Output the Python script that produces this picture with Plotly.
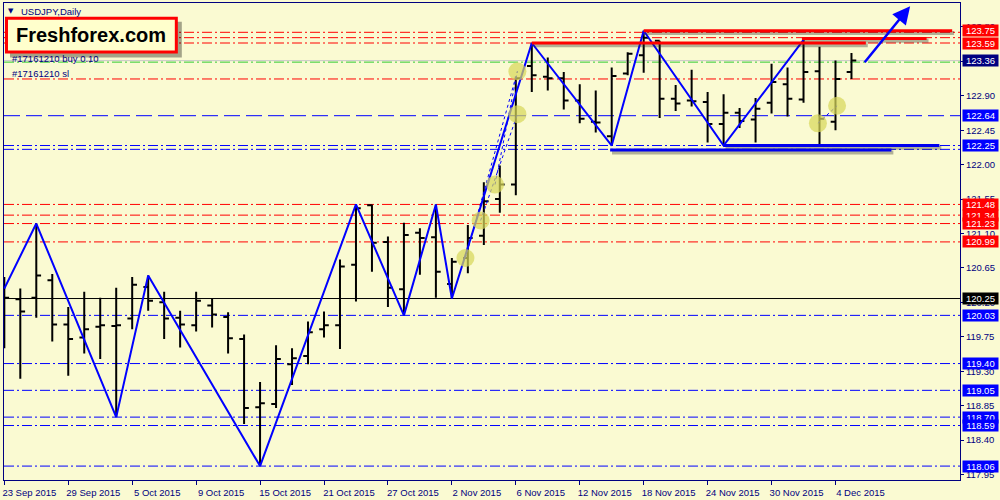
import plotly.graph_objects as go

# ---------------- data ----------------
dates = ["23 Sep 2015", "24 Sep 2015", "25 Sep 2015", "28 Sep 2015", "29 Sep 2015", "30 Sep 2015",
         "1 Oct 2015", "2 Oct 2015", "5 Oct 2015", "6 Oct 2015", "7 Oct 2015", "8 Oct 2015", "9 Oct 2015",
         "12 Oct 2015", "13 Oct 2015", "14 Oct 2015", "15 Oct 2015", "16 Oct 2015", "19 Oct 2015",
         "20 Oct 2015", "21 Oct 2015", "22 Oct 2015", "23 Oct 2015", "26 Oct 2015", "27 Oct 2015",
         "28 Oct 2015", "29 Oct 2015", "30 Oct 2015", "2 Nov 2015", "3 Nov 2015", "4 Nov 2015",
         "5 Nov 2015", "6 Nov 2015", "9 Nov 2015", "10 Nov 2015", "11 Nov 2015", "12 Nov 2015",
         "13 Nov 2015", "16 Nov 2015", "17 Nov 2015", "18 Nov 2015", "19 Nov 2015", "20 Nov 2015",
         "23 Nov 2015", "24 Nov 2015", "25 Nov 2015", "26 Nov 2015", "27 Nov 2015", "30 Nov 2015",
         "1 Dec 2015", "2 Dec 2015", "3 Dec 2015", "4 Dec 2015", "7 Dec 2015"]

opens = [120.28, 120.24, 120.26, 120.49, 119.91, 119.74, 119.88, 119.89, 119.99, 120.40,
         120.20, 120.00, 119.90, 120.16, 120.01, 119.72, 118.83, 118.87, 119.39, 119.50,
         119.85, 119.90, 120.69, 121.47, 120.99, 120.37, 121.11, 121.05, 120.44, 120.78,
         121.07, 121.55, 121.74, 123.29, 123.15, 123.13, 122.84, 122.56, 122.37, 123.19,
         123.43, 123.62, 122.86, 122.84, 122.82, 122.53, 122.68, 122.59, 122.81, 123.05,
         122.85, 123.22, 122.56, 123.21]
highs = [120.53, 120.38, 121.23, 120.57, 120.14, 120.34, 120.26, 120.39, 120.53, 120.55,
         120.34, 120.09, 120.34, 120.25, 120.07, 119.78, 119.16, 119.64, 119.60, 119.95,
         120.08, 120.76, 121.48, 121.48, 121.06, 121.24, 121.17, 121.48, 120.78, 121.21,
         121.77, 121.99, 123.15, 123.59, 123.40, 123.21, 123.05, 122.97, 123.27, 123.47,
         123.75, 123.62, 123.04, 123.24, 122.95, 122.92, 122.74, 122.87, 123.32, 123.27,
         123.63, 123.54, 123.36, 123.46]
lows = [119.60, 119.20, 120.00, 119.69, 119.24, 119.53, 119.46, 118.70, 119.85, 120.09,
        119.72, 119.61, 119.82, 119.87, 119.53, 118.61, 118.06, 118.82, 119.12, 119.39,
        119.74, 119.59, 120.21, 120.60, 120.14, 120.03, 120.56, 120.26, 120.25, 120.58,
        120.95, 121.37, 121.60, 122.95, 122.97, 122.72, 122.54, 122.42, 122.25, 123.17,
        123.20, 122.61, 122.70, 122.76, 122.29, 122.25, 122.48, 122.29, 122.67, 122.63,
        122.81, 122.27, 122.45, 123.12]
closes = [120.26, 120.08, 120.55, 119.91, 119.72, 119.85, 119.90, 119.90, 120.43, 120.22,
          119.99, 119.91, 120.22, 120.04, 119.73, 118.82, 118.88, 119.46, 119.47, 119.81,
          119.90, 120.67, 121.43, 120.98, 120.39, 121.08, 121.04, 120.60, 120.73, 121.04,
          121.52, 121.74, 123.13, 123.17, 123.13, 122.84, 122.60, 122.55, 123.16, 123.45,
          123.66, 122.86, 122.80, 122.83, 122.53, 122.68, 122.57, 122.73, 123.08, 122.86,
          123.21, 122.60, 123.12, 123.36]

# zigzag vertices (bar index, price)
zz_idx = [0, 2, 7, 9, 16, 22, 25, 27, 28, 33, 38, 40, 45, 50]
zz_price = [120.38, 121.23, 118.70, 120.55, 118.06, 121.48, 120.03, 121.48, 120.25,
            123.59, 122.25, 123.75, 122.25, 123.63]

# price levels
red_levels = [123.73, 123.66, 123.59, 123.12, 121.48, 121.34, 121.23, 120.99]
blue_levels = [122.25, 122.20, 120.03, 119.40, 119.05, 118.70, 118.59, 118.06]
blue_long_dash = [122.64]
green_levels = [123.34]
bid_price = 123.36
black_levels = [120.25]

# right-axis level labels
red_labels = [123.75, 123.59, 121.48, 121.34, 121.23, 120.99]
blue_labels = [122.64, 122.25, 120.03, 119.40, 119.05, 118.70, 118.59, 118.06]
navy_labels = [123.36]
black_labels = [120.25]

# drawn trend segments: (start index, end index, price)
red_segments = [(40, 59.3, 123.75), (49.9, 57.7, 123.65), (33, 53.9, 123.59)]
blue_segments = [(37.9, 55.5, 122.19), (45, 58.5, 122.25)]

# forecast arrow (tail index, tail price, head index, head price)
arrow = (53.75, 123.32, 56.67, 124.07)

# trade markers (index, price)
trade_idx = [32.1, 32.1, 30.7, 29.8, 28.85, 52.1, 50.9]
trade_price = [123.22, 122.66, 121.74, 121.27, 120.78, 122.77, 122.54]
trade_links = [((28.85, 120.78), (32.1, 123.22)), ((29.8, 121.27), (32.1, 122.66)),
               ((30.7, 121.74), (32.1, 123.22)), ((50.9, 122.54), (52.1, 122.77))]

y_ticks = [117.95, 118.40, 118.85, 119.30, 119.75, 120.20, 120.65, 121.10, 121.55,
           122.00, 122.45, 122.90, 123.35, 123.80]

# ---------------- styling ----------------
BG = "#FAFAD2"
NAVY = "#000080"
FONT = "Liberation Sans, Arial, sans-serif"
W, H = 1000, 500
ML, MR, MT, MB = 3, 40, 2, 17
PW, PH = W - ML - MR, H - MT - MB


def px(x):
    return (x - ML) / PW


def py(y):
    return (H - MB - y) / PH


xs = list(range(len(dates)))
fig = go.Figure()

fig.add_trace(go.Ohlc(
    x=xs, open=opens, high=highs, low=lows, close=closes,
    increasing=dict(line=dict(color="black", width=2)),
    decreasing=dict(line=dict(color="black", width=2)),
    tickwidth=0.3, hoverinfo="skip", showlegend=False))

for (a, b) in trade_links:
    fig.add_trace(go.Scatter(x=[a[0], b[0]], y=[a[1], b[1]], mode="lines",
                             line=dict(color="#0000FF", width=1, dash="dot"),
                             hoverinfo="skip", showlegend=False))

fig.add_trace(go.Scatter(x=zz_idx, y=zz_price, mode="lines",
                         line=dict(color="#0000FF", width=2),
                         hoverinfo="skip", showlegend=False))

fig.add_trace(go.Scatter(x=trade_idx, y=trade_price, mode="markers",
                         marker=dict(size=18, color="rgba(215,215,90,0.72)", line=dict(width=0)),
                         hoverinfo="skip", showlegend=False))

shapes = []
DD = "10px,3px,2px,3px"
for p in red_levels:
    shapes.append(dict(type="line", xref="paper", x0=0, x1=1, yref="y", y0=p, y1=p,
                       line=dict(color="#FF0000", width=1, dash=DD), layer="below"))
for p in blue_levels:
    shapes.append(dict(type="line", xref="paper", x0=0, x1=1, yref="y", y0=p, y1=p,
                       line=dict(color="#0000FF", width=1, dash=DD), layer="below"))
for p in blue_long_dash:
    shapes.append(dict(type="line", xref="paper", x0=0, x1=1, yref="y", y0=p, y1=p,
                       line=dict(color="#0000FF", width=1, dash="16px,6px"), layer="below"))
shapes.append(dict(type="line", xref="paper", x0=0, x1=1, yref="y", y0=bid_price, y1=bid_price,
                   line=dict(color="#C8C8C8", width=1), layer="below"))
for p in green_levels:
    shapes.append(dict(type="line", xref="paper", x0=0, x1=1, yref="y", y0=p, y1=p,
                       line=dict(color="#32CD32", width=1, dash=DD), layer="below"))
for p in black_levels:
    shapes.append(dict(type="line", xref="paper", x0=0, x1=1, yref="y", y0=p, y1=p,
                       line=dict(color="black", width=1), layer="below"))

SH = 2.3 / 77.15
for (a, b, p) in red_segments + blue_segments:
    shapes.append(dict(type="line", xref="x", yref="y", x0=a + 0.12, x1=b + 0.12, y0=p - SH, y1=p - SH,
                       line=dict(color="rgba(40,40,40,0.35)", width=4), layer="above"))
for (a, b, p) in red_segments:
    shapes.append(dict(type="line", xref="x", yref="y", x0=a, x1=b, y0=p, y1=p,
                       line=dict(color="#FF0000", width=3), layer="above"))
for (a, b, p) in blue_segments:
    shapes.append(dict(type="line", xref="x", yref="y", x0=a, x1=b, y0=p, y1=p,
                       line=dict(color="#0000EE", width=3), layer="above"))

shapes.append(dict(type="rect", xref="paper", yref="paper", x0=px(9), x1=px(181), y0=py(57), y1=py(21),
                   fillcolor="rgba(0,0,0,0.35)", line=dict(width=0), layer="above"))
shapes.append(dict(type="rect", xref="paper", yref="paper", x0=px(5.5), x1=px(175.5), y0=py(51.5), y1=py(17.5),
                   fillcolor="#FFFFCC", line=dict(color="#FF0000", width=3), layer="above"))

annotations = []
annotations.append(dict(x=arrow[2], y=arrow[3], ax=arrow[0], ay=arrow[1], xref="x", yref="y",
                        axref="x", ayref="y", showarrow=True, arrowhead=2, arrowsize=1.4,
                        arrowwidth=2.5, arrowcolor="#0000FF", text=""))

annotations.append(dict(xref="paper", yref="paper", x=px(90.5), y=py(34.5), text="<b>Freshforex.com</b>",
                        showarrow=False, font=dict(family=FONT, size=20, color="black"),
                        xanchor="center", yanchor="middle"))
annotations.append(dict(xref="paper", yref="paper", x=px(5), y=py(10.5), text="▼", showarrow=False,
                        font=dict(family="DejaVu Sans", size=7, color=NAVY), xanchor="left", yanchor="middle"))
annotations.append(dict(xref="paper", yref="paper", x=px(18), y=py(10.5), text="USDJPY,Daily", showarrow=False,
                        font=dict(family=FONT, size=9.5, color=NAVY), xanchor="left", yanchor="middle"))
annotations.append(dict(xref="paper", yref="paper", x=px(9), y=py(57.5), text="#17161210 buy 0.10",
                        showarrow=False, font=dict(family=FONT, size=9.5, color=NAVY),
                        xanchor="left", yanchor="middle"))
annotations.append(dict(xref="paper", yref="paper", x=px(9), y=py(73), text="#17161210 sl",
                        showarrow=False, font=dict(family=FONT, size=9.5, color=NAVY),
                        xanchor="left", yanchor="middle"))

for group, col in ((red_labels, "#FF0000"), (blue_labels, "#0000FF"),
                   (navy_labels, "#000080"), (black_labels, "#000000")):
    for p in group:
        annotations.append(dict(xref="paper", x=1, xanchor="left", xshift=1.5, yref="y", y=p,
                                yanchor="middle", text=f"{p:.2f}", showarrow=False,
                                bgcolor=col, width=35, height=11, borderpad=0,
                                font=dict(family=FONT, size=9.5, color="white")))

tick_idx = list(range(0, len(dates), 4))
fig.update_layout(
    width=W, height=H, margin=dict(l=ML, r=MR, t=MT, b=MB),
    paper_bgcolor=BG, plot_bgcolor=BG, showlegend=False,
    shapes=shapes, annotations=annotations,
    xaxis=dict(range=[-0.02, 59.79], tickvals=tick_idx, ticktext=[dates[i] for i in tick_idx],
               ticks="outside", ticklen=4, tickcolor=NAVY, showline=True, linecolor=NAVY,
               linewidth=1, mirror=True, showgrid=False, zeroline=False, ticklabelshift=25,
               tickfont=dict(family=FONT, size=9.5, color=NAVY), rangeslider=dict(visible=False)),
    yaxis=dict(side="right", range=[117.878, 124.113], tickvals=y_ticks,
               ticktext=[f"{v:.2f}" for v in y_ticks], ticks="outside", ticklen=3, tickcolor=NAVY,
               showline=True, linecolor=NAVY, linewidth=1, mirror=True, showgrid=False,
               zeroline=False, tickfont=dict(family=FONT, size=9.5, color=NAVY)),
)

fig.write_html("out.html", config={"displayModeBar": False},
               post_script="document.body.style.margin='0px';document.body.style.background='%s';" % BG)
